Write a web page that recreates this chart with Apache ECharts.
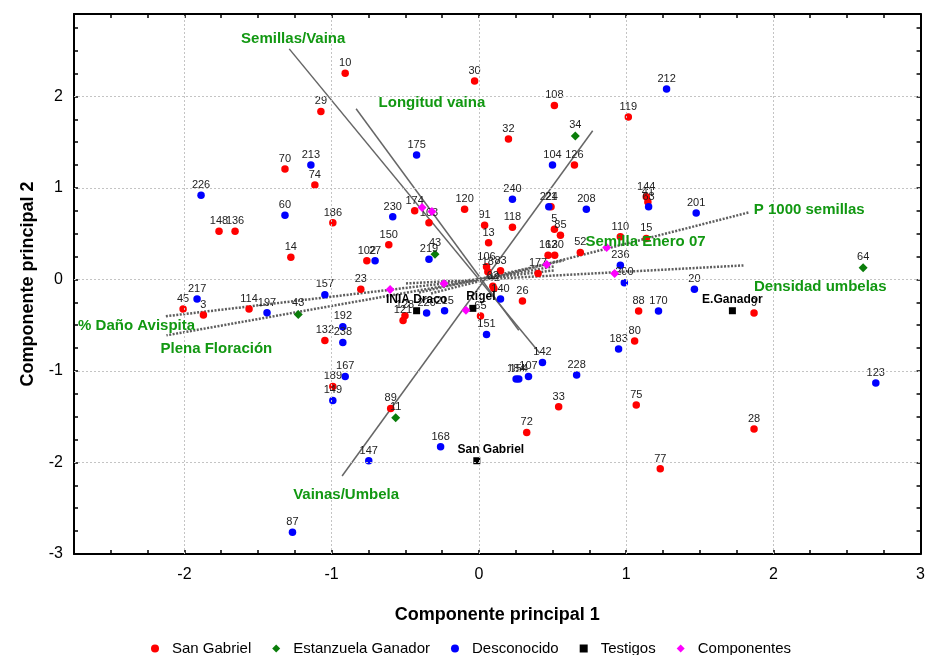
<!DOCTYPE html>
<html><head><meta charset="utf-8">
<script src="https://cdn.jsdelivr.net/npm/echarts@6/dist/echarts.min.js"></script>
<style>html,body{margin:0;padding:0;background:#fff}#c{width:928px;height:655px}</style>
</head><body><div id="c"></div>
<script>
// ---- DATA ----
// [PC1, PC2, label]
const sanGabriel = [
  [-0.908,2.254,'10'],[-0.029,2.167,'30'],[-1.073,1.835,'29'],[0.513,1.901,'108'],[1.015,1.774,'119'],
  [0.201,1.534,'32'],[0.649,1.251,'126'],[-1.317,1.207,'70'],[-1.114,1.033,'74'],[1.137,0.902,'144'],
  [1.148,0.847,'41'],[-1.765,0.527,'148'],[-1.656,0.527,'136'],[-0.992,0.618,'186'],[-0.436,0.749,'174'],
  [-0.339,0.618,'103'],[-0.097,0.767,'120'],[0.039,0.592,'91'],[0.228,0.571,'118'],[0.49,0.793,'21'],
  [0.513,0.549,'5'],[0.554,0.483,'85'],[0.961,0.466,'110'],[1.137,0.447,'15'],[0.47,0.265,'162'],
  [0.515,0.265,'130'],[0.689,0.294,'52'],[0.066,0.4,'13'],[-0.612,0.378,'150'],[-0.761,0.204,'102'],
  [-1.277,0.243,'14'],[0.052,0.138,'106'],[0.061,0.084,'18'],[0.147,0.095,'83'],[0.402,0.065,'177'],
  [0.095,-0.075,'62'],[0.102,-0.098,'42'],[0.296,-0.236,'26'],[0.011,-0.4,'65'],[-0.802,-0.106,'23'],
  [-2.009,-0.324,'45'],[-1.871,-0.389,'3'],[-1.561,-0.324,'114'],[-0.502,-0.396,'128'],[-0.515,-0.45,'121'],
  [-1.046,-0.668,'132'],[1.085,-0.345,'88'],[1.869,-0.367,'9'],[1.058,-0.673,'80'],[-0.992,-1.171,'189'],
  [-0.599,-1.41,'89'],[0.542,-1.392,'33'],[0.325,-1.672,'72'],[1.069,-1.371,'75'],[1.869,-1.633,'28'],
  [1.232,-2.069,'77']
];
const estanzuela = [
  [0.655,1.567,'34'],[-0.298,0.276,'43'],[-1.227,-0.382,'43'],[2.61,0.127,'64'],[-0.565,-1.512,'11']
];
const desconocido = [
  [1.275,2.08,'212'],[-0.423,1.36,'175'],[-1.141,1.251,'213'],[0.5,1.251,'104'],[-1.887,0.919,'226'],
  [0.228,0.876,'240'],[1.153,0.793,'63'],[0.475,0.793,'224'],[0.73,0.767,'208'],[1.476,0.727,'201'],
  [-1.317,0.701,'60'],[-0.585,0.684,'230'],[-0.339,0.221,'219'],[-0.705,0.204,'27'],[0.961,0.156,'236'],
  [0.988,-0.036,'200'],[1.464,-0.106,'20'],[-1.046,-0.167,'157'],[-1.914,-0.215,'217'],[0.147,-0.215,'140'],
  [-0.233,-0.342,'215'],[-0.355,-0.367,'220'],[-1.439,-0.364,'197'],[1.22,-0.345,'170'],[-0.924,-0.516,'192'],
  [0.052,-0.603,'151'],[-0.924,-0.69,'238'],[0.949,-0.76,'183'],[0.432,-0.909,'142'],[0.664,-1.043,'228'],
  [-0.908,-1.061,'167'],[0.253,-1.087,'184'],[0.271,-1.087,'154'],[0.337,-1.061,'107'],[-0.992,-1.323,'149'],
  [2.696,-1.131,'123'],[-0.26,-1.828,'168'],[-0.748,-1.981,'147'],[-1.266,-2.762,'87']
];
const testigos = [
  [-0.423,-0.342,'INIA Draco'],[-0.041,-0.316,'Rigel'],[1.722,-0.342,'E.Ganador'],[-0.014,-1.981,'San Gabriel']
];
// variables (components)
const varNames = ['Semillas/Vaina','Longitud vaina','Vainas/Umbela','P 1000 semillas','Semilla Enero 07','Densidad umbelas','% Daño Avispita','Plena Floración'];
const varLoadings = [[-0.386,0.785],[-0.319,0.742],[-0.088,-0.338],[0.868,0.349],[0.461,0.164],[0.922,0.065],[-0.603,-0.109],[-0.237,-0.044]];
const varLineEnd = [[-1.288,2.519],[-0.834,1.865],[-0.929,-2.148],[1.831,0.731],[0.576,0.207],[1.797,0.153],[-2.129,-0.403],[-2.122,-0.611]];
const varLineOpp = [[0.414,-0.807],[0.271,-0.556],[0.773,1.625],[-0.325,-0.153],[-0.407,-0.142],[-0.495,-0.044],[0.508,0.098],[0.508,0.142]];
const xTicksGrid = [-2,-1,0,1,2];
const yTicksGrid = [-2,-1,0,1,2];

// ---- LAYOUT / STYLE ----
const varLabelAnchor = [[-1.261,2.628],[-0.319,1.93],[-0.902,-2.355],[2.244,0.763],[1.132,0.414],[2.319,-0.076],[-2.325,-0.502],[-1.783,-0.763]];
const varDashed = [false,false,false,true,true,true,true,true];
const FONT = '"Liberation Sans", Arial, sans-serif';
const GREEN_TXT = '#129812';

function intLabel(v){ const r = Math.round(v); return Math.abs(v - r) < 1e-6 ? String(r === 0 ? 0 : r) : ''; }

const axisCommon = {
  type:'value', interval:0.25,
  axisLine:{show:true, onZero:false, lineStyle:{color:'#000', width:2}},
  axisTick:{show:true, inside:true, length:4, lineStyle:{color:'#000', width:1.5}},
  splitLine:{show:false}
};

const series = [];
// grid lines
series.push({
  type:'scatter', data:[], silent:true, xAxisIndex:0, yAxisIndex:0,
  markLine:{silent:true, symbol:['none','none'], label:{show:false}, animation:false,
    lineStyle:{color:'#c4c4c4', width:1, type:[2,2]},
    data: xTicksGrid.map(v=>({xAxis:v})).concat(yTicksGrid.map(v=>({yAxis:v})))}
});
// variable lines
varNames.forEach((n,i)=>{
  series.push({
    type:'line', name:'_v'+i, silent:true, showSymbol:false, symbol:'none', z:1,
    data:[varLineOpp[i], varLineEnd[i]],
    lineStyle: varDashed[i] ? {color:'#5e5e5e', width:2.5, type:[2,1.5], opacity:1} : {color:'#666', width:1.5, opacity:1}
  });
});
function ptSeries(name, arr, color, symbol, size){
  return {
    type:'scatter', name, symbol, symbolSize:size, z:3,
    itemStyle:{color, opacity:1},
    data: arr.map(d=>({value:[d[0],d[1]], name:d[2]})),
    label:{show:true, position:'top', distance:1, formatter:p=>p.name, color:'#222', fontSize:11, fontFamily:FONT}
  };
}
series.push(ptSeries('San Gabriel', sanGabriel, '#ff0000', 'circle', 7.5));
series.push(ptSeries('Estanzuela Ganador', estanzuela, '#0a7d0a', 'diamond', 9));
series.push(ptSeries('Desconocido', desconocido, '#0000ff', 'circle', 7.5));
const ts = ptSeries('Testigos', testigos, '#000000', 'rect', 7);
ts.label = {show:true, position:'top', distance:2, formatter:p=>p.name, color:'#000', fontSize:12, fontWeight:'bold', fontFamily:FONT};
ts.data.forEach(d=>{ if(d.name==='San Gabriel') d.label={offset:[14,0]}; if(d.name==='Rigel') d.label={offset:[8,0]}; });
ts.z = 4;
series.push(ts);
series.push({type:'scatter', name:'Componentes', symbol:'diamond', symbolSize:9, z:4, itemStyle:{color:'#ff00ff', opacity:1},
  data: varLoadings.map(d=>[d[0],d[1]])});
// variable labels
series.push({type:'scatter', name:'_labels', symbolSize:0, silent:true, z:5, itemStyle:{opacity:1},
  data: varNames.map((n,i)=>({value:varLabelAnchor[i], name:n})),
  label:{show:true, position:'inside', formatter:p=>p.name, color:GREEN_TXT, fontSize:15, fontWeight:'bold', fontFamily:FONT}
});

const chart = echarts.init(document.getElementById('c'), null, {renderer:'canvas'});
chart.setOption({
  animation:false,
  backgroundColor:'#fff',
  grid:{left:74, right:6, top:14, bottom:101, containLabel:false},
  xAxis:[
    Object.assign({}, axisCommon, {min:-2.75, max:3, position:'bottom',
      axisLabel:{formatter:intLabel, color:'#000', fontSize:16, fontFamily:FONT, margin:13},
      name:'Componente principal 1', nameLocation:'middle', nameGap:52,
      nameTextStyle:{fontSize:18, fontWeight:'bold', color:'#000', fontFamily:FONT}}),
    Object.assign({}, axisCommon, {min:-2.75, max:3, position:'top', axisLabel:{show:false}})
  ],
  yAxis:[
    Object.assign({}, axisCommon, {min:-3, max:2.9, position:'left',
      axisLabel:{formatter:intLabel, color:'#000', fontSize:16, fontFamily:FONT, margin:11},
      name:'Componente principal 2', nameLocation:'middle', nameGap:37,
      nameTextStyle:{fontSize:18, fontWeight:'bold', color:'#000', fontFamily:FONT}}),
    Object.assign({}, axisCommon, {min:-3, max:2.9, position:'right', axisLabel:{show:false}})
  ],
  legend:{
    top:636, left:146, itemWidth:8, itemHeight:8, itemGap:21,
    textStyle:{fontSize:15, color:'#000', padding:[0,0,0,8], fontFamily:FONT},
    data:[
      {name:'San Gabriel', icon:'circle'},
      {name:'Estanzuela Ganador', icon:'diamond'},
      {name:'Desconocido', icon:'circle'},
      {name:'Testigos', icon:'rect'},
      {name:'Componentes', icon:'diamond'}
    ]
  },
  series
});
</script></body></html>
